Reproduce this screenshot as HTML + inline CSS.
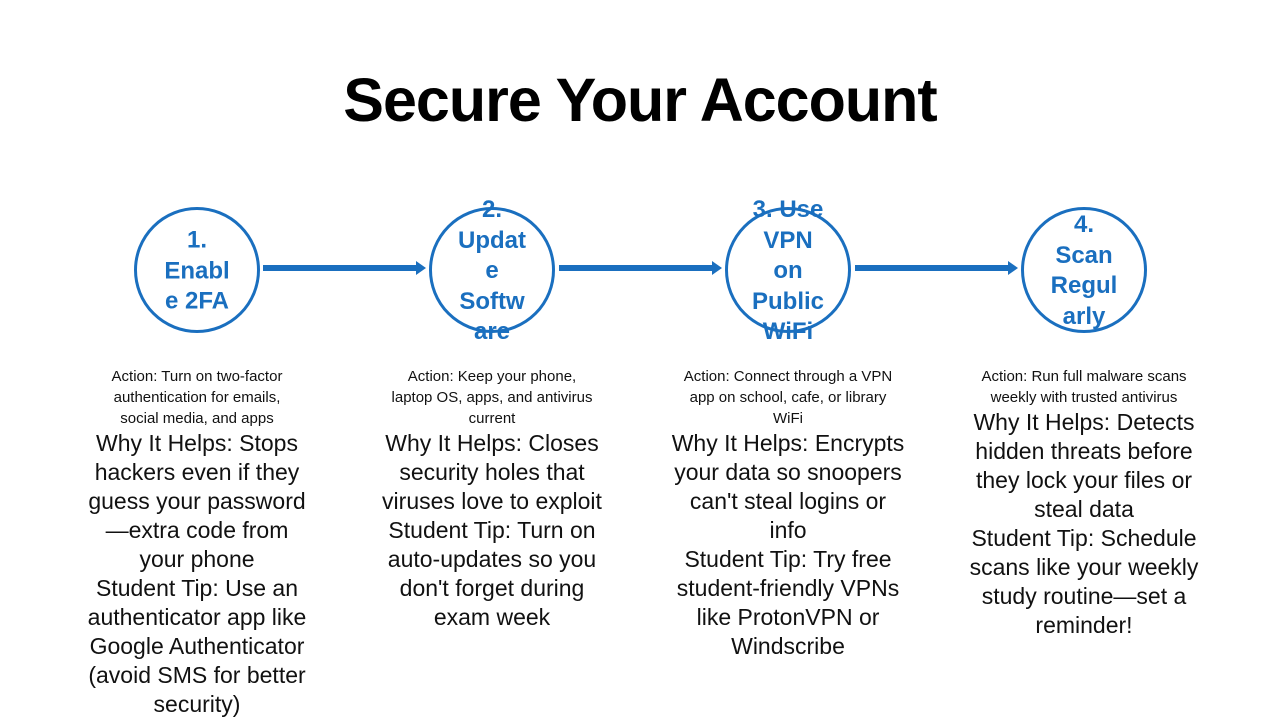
<!DOCTYPE html>
<html><head><meta charset="utf-8"><style>
body{margin:0;width:1280px;height:720px;background:#fff;position:relative;overflow:hidden;font-family:"Liberation Sans",sans-serif;}
.title{position:absolute;left:0;width:1280px;top:65px;text-align:center;font-size:61px;font-weight:bold;color:#000;letter-spacing:-1px;}
.c{position:absolute;top:207px;width:120px;height:120px;border:3px solid #1a6fbf;border-radius:50%;background:#fff;box-sizing:content-box;}
.ct{position:absolute;top:271px;width:130px;transform:translateY(-50%);text-align:center;color:#1a6fbf;font-weight:bold;font-size:24px;line-height:30.5px;}
.ar{position:absolute;top:265px;height:6px;background:#1a6fbf;}
.ah{position:absolute;top:261px;width:0;height:0;border-top:7px solid transparent;border-bottom:7px solid transparent;border-left:10px solid #1a6fbf;}
.col{position:absolute;top:366px;width:280px;text-align:center;color:#111;}
.s{font-size:15px;line-height:21px;}
.b{font-size:23px;line-height:29px;}
</style></head><body>
<div class="title">Secure Your Account</div>

<div class="ar" style="left:263px;width:154px"></div><div class="ah" style="left:416px"></div>
<div class="ar" style="left:559px;width:154px"></div><div class="ah" style="left:712px"></div>
<div class="ar" style="left:855px;width:154px"></div><div class="ah" style="left:1008px"></div>

<div class="c" style="left:134px"></div>
<div class="c" style="left:429px"></div>
<div class="c" style="left:725px"></div>
<div class="c" style="left:1021px"></div>

<div class="ct" style="left:132px">1.<br>Enabl<br>e 2FA</div>
<div class="ct" style="left:427px">2.<br>Updat<br>e<br>Softw<br>are</div>
<div class="ct" style="left:723px">3. Use<br>VPN<br>on<br>Public<br>WiFi</div>
<div class="ct" style="left:1019px">4.<br>Scan<br>Regul<br>arly</div>

<div class="col" style="left:57px">
<div class="s">Action: Turn on two-factor<br>authentication for emails,<br>social media, and apps</div>
<div class="b">Why It Helps: Stops<br>hackers even if they<br>guess your password<br>—extra code from<br>your phone<br>Student Tip: Use an<br>authenticator app like<br>Google Authenticator<br>(avoid SMS for better<br>security)</div></div>

<div class="col" style="left:352px">
<div class="s">Action: Keep your phone,<br>laptop OS, apps, and antivirus<br>current</div>
<div class="b">Why It Helps: Closes<br>security holes that<br>viruses love to exploit<br>Student Tip: Turn on<br>auto-updates so you<br>don't forget during<br>exam week</div></div>

<div class="col" style="left:648px">
<div class="s">Action: Connect through a VPN<br>app on school, cafe, or library<br>WiFi</div>
<div class="b">Why It Helps: Encrypts<br>your data so snoopers<br>can't steal logins or<br>info<br>Student Tip: Try free<br>student-friendly VPNs<br>like ProtonVPN or<br>Windscribe</div></div>

<div class="col" style="left:944px">
<div class="s">Action: Run full malware scans<br>weekly with trusted antivirus</div>
<div class="b">Why It Helps: Detects<br>hidden threats before<br>they lock your files or<br>steal data<br>Student Tip: Schedule<br>scans like your weekly<br>study routine—set a<br>reminder!</div></div>
</body></html>
